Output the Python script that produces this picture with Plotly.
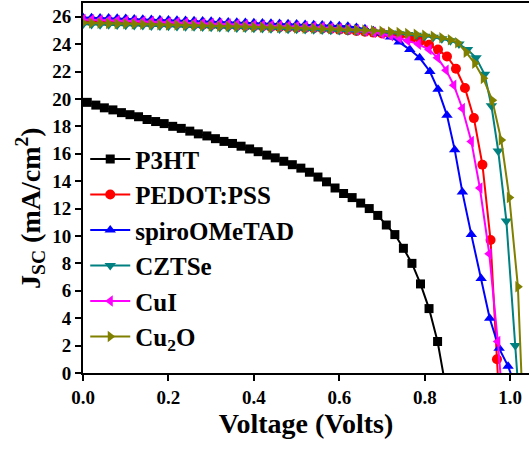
import plotly.graph_objects as go

# J-V curves (current density in mA/cm^2 vs voltage in V) for each hole-transport layer

p3ht_v = [0.01, 0.03, 0.05, 0.07, 0.09, 0.11, 0.13, 0.15, 0.17, 0.19, 0.21, 0.23, 0.25, 0.27,
          0.29, 0.31, 0.33, 0.35, 0.37, 0.39, 0.41, 0.43, 0.45, 0.47, 0.49, 0.51, 0.53, 0.55,
          0.57, 0.59, 0.61, 0.63, 0.65, 0.67, 0.69, 0.71, 0.73, 0.75, 0.77, 0.79, 0.81, 0.83, 0.85]
p3ht_j = [19.75, 19.55, 19.35, 19.2, 19.0, 18.85, 18.7, 18.5, 18.35, 18.2, 18.0, 17.85, 17.65, 17.45,
          17.3, 17.1, 16.9, 16.75, 16.55, 16.35, 16.15, 15.9, 15.7, 15.45, 15.2, 14.95, 14.65, 14.3,
          13.95, 13.5, 13.1, 12.8, 12.4, 12.0, 11.5, 10.8, 10.1, 9.1, 8.0, 6.5, 4.7, 2.3, -1.2]

v_flat = [0.00, 0.02, 0.04, 0.06, 0.08, 0.10, 0.12, 0.14, 0.16, 0.18, 0.20, 0.22, 0.24, 0.26,
          0.28, 0.30, 0.32, 0.34, 0.36, 0.38, 0.40, 0.42, 0.44, 0.46, 0.48, 0.50, 0.52, 0.54,
          0.56, 0.58, 0.60, 0.62, 0.64, 0.66, 0.68, 0.70, 0.72, 0.74]

pedot_v = v_flat + [0.77, 0.79, 0.81, 0.831, 0.852, 0.873, 0.894, 0.915, 0.935, 0.954, 0.969, 0.985]
pedot_j = [25.70, 25.68, 25.66, 25.64, 25.62, 25.60, 25.58, 25.56, 25.54, 25.52, 25.50, 25.48, 25.46, 25.44,
           25.42, 25.40, 25.38, 25.36, 25.34, 25.32, 25.30, 25.28, 25.26, 25.24, 25.22, 25.20, 25.18, 25.16,
           25.14, 25.10, 25.06, 25.01, 24.96, 24.90, 24.84, 24.77, 24.70, 24.62,
           24.45, 24.25, 23.95, 23.6, 23.1, 22.2, 20.8, 18.6, 15.2, 9.7, 1.0, -8.0]

spiro_v = v_flat + [0.765, 0.788, 0.812, 0.831, 0.852, 0.870, 0.888, 0.909, 0.932, 0.952, 0.974, 0.995, 1.01]
spiro_j = [25.95, 25.93, 25.91, 25.90, 25.88, 25.86, 25.84, 25.82, 25.80, 25.78, 25.76, 25.74, 25.72, 25.70,
           25.68, 25.66, 25.64, 25.62, 25.60, 25.58, 25.56, 25.54, 25.52, 25.50, 25.48, 25.46, 25.44, 25.42,
           25.40, 25.37, 25.34, 25.30, 25.22, 25.12, 24.98, 24.80, 24.52, 24.15,
           23.6, 23.0, 22.0, 20.7, 18.8, 16.3, 13.2, 10.1, 6.9, 4.0, 1.8, 0.5, -0.8]

czts_v = v_flat + [0.76, 0.78, 0.80, 0.82, 0.84, 0.86, 0.88, 0.90, 0.92, 0.94, 0.956, 0.972, 0.991, 1.012, 1.03]
czts_j = [25.45, 25.44, 25.42, 25.41, 25.39, 25.38, 25.36, 25.35, 25.33, 25.32, 25.30, 25.29, 25.27, 25.26,
          25.24, 25.23, 25.21, 25.20, 25.18, 25.17, 25.15, 25.14, 25.12, 25.11, 25.09, 25.08, 25.06, 25.05,
          25.03, 25.02, 25.00, 24.98, 24.95, 24.92, 24.89, 24.85, 24.81, 24.76,
          24.71, 24.65, 24.58, 24.50, 24.40, 24.25, 24.0, 23.6, 23.0, 21.8, 19.5, 16.2, 11.1, 2.0, -6.0]

cui_v = v_flat + [0.76, 0.785, 0.81, 0.83, 0.85, 0.868, 0.888, 0.909, 0.929, 0.951, 0.971, 0.99]
cui_j = [25.80, 25.78, 25.76, 25.74, 25.72, 25.70, 25.68, 25.66, 25.64, 25.62, 25.60, 25.58, 25.56, 25.54,
         25.52, 25.50, 25.48, 25.46, 25.44, 25.42, 25.40, 25.38, 25.36, 25.34, 25.32, 25.30, 25.28, 25.26,
         25.24, 25.20, 25.16, 25.10, 25.04, 24.96, 24.87, 24.76, 24.62, 24.45,
         24.25, 24.0, 23.6, 23.0, 22.1, 21.0, 19.3, 16.9, 13.5, 8.7, 2.3, -5.0]

cu2o_v = v_flat + [0.76, 0.78, 0.80, 0.82, 0.84, 0.86, 0.877, 0.897, 0.917, 0.937, 0.958, 0.979, 0.998, 1.018, 1.03]
cu2o_j = [25.55, 25.54, 25.52, 25.51, 25.49, 25.48, 25.46, 25.45, 25.43, 25.42, 25.40, 25.39, 25.37, 25.36,
          25.34, 25.33, 25.31, 25.30, 25.28, 25.27, 25.25, 25.24, 25.22, 25.21, 25.19, 25.18, 25.16, 25.15,
          25.13, 25.12, 25.10, 25.08, 25.05, 25.02, 24.98, 24.94, 24.89, 24.84,
          24.78, 24.72, 24.65, 24.57, 24.46, 24.32, 24.1, 23.4, 22.6, 21.5, 19.9, 17.0, 12.8, 6.3, -3.0]

series = [
    ("P3HT", p3ht_v, p3ht_j, "#000000", "square", 9),
    ("PEDOT:PSS", pedot_v, pedot_j, "#FF0000", "circle", 10),
    ("spiroOMeTAD", spiro_v, spiro_j, "#0000FF", "triangle-up", 10),
    ("CZTSe", czts_v, czts_j, "#008080", "triangle-down", 10),
    ("CuI", cui_v, cui_j, "#FF00FF", "triangle-left", 10),
    ("Cu<sub>2</sub>O", cu2o_v, cu2o_j, "#808000", "triangle-right", 10),
]

FONT = "Times New Roman"

fig = go.Figure()
for name, v, j, color, symbol, msize in series:
    fig.add_trace(go.Scatter(
        x=v, y=j, name=name, mode="lines+markers",
        line=dict(color=color, width=2),
        marker=dict(symbol=symbol, size=msize, color=color, line=dict(width=0)),
    ))

fig.update_layout(
    width=529, height=453,
    margin=dict(l=83, r=0, t=3, b=80),
    paper_bgcolor="white", plot_bgcolor="white",
    font=dict(family=FONT, color="black"),
    showlegend=True,
    legend=dict(
        x=0.005, y=0.64, xanchor="left", yanchor="top",
        bgcolor="rgba(0,0,0,0)", borderwidth=0,
        font=dict(family=FONT, size=25, color="black", weight=700),
        itemwidth=40,
    ),
    xaxis=dict(
        range=[0, 1.044], tickmode="array",
        tickvals=[0.0, 0.2, 0.4, 0.6, 0.8, 1.0],
        ticktext=["0.0", "0.2", "0.4", "0.6", "0.8", "1.0"],
        showgrid=False, zeroline=False,
        showline=True, linecolor="black", linewidth=2, mirror=True,
        ticks="outside", ticklen=6, tickwidth=2, tickcolor="black",
        tickfont=dict(family=FONT, size=19, color="black", weight=700),
        title=dict(text="Voltage (Volts)", standoff=2,
                   font=dict(family=FONT, size=28, color="black", weight=700)),
    ),
    yaxis=dict(
        range=[0, 27], tickmode="array",
        tickvals=list(range(0, 27, 2)),
        showgrid=False, zeroline=False,
        showline=True, linecolor="black", linewidth=2,
        ticks="outside", ticklen=6, tickwidth=2, tickcolor="black",
        tickfont=dict(family=FONT, size=19, color="black", weight=700),
    ),
    annotations=[dict(
        text="J<sub>SC</sub> (mA/cm<sup>2</sup>)", textangle=-90,
        xref="paper", yref="paper", x=-0.118, y=0.447,
        xanchor="center", yanchor="middle", showarrow=False,
        font=dict(family=FONT, size=28, color="black", weight=700),
    )],
)

fig.write_html("out.html")
